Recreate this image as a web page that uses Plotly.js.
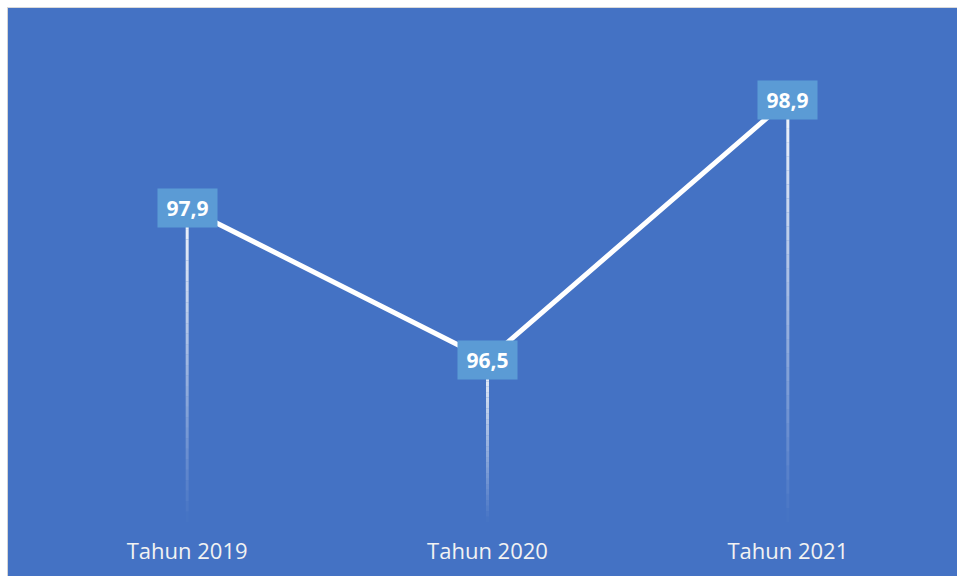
<!DOCTYPE html>
<html>
<head>
<meta charset="utf-8">
<script src="https://cdn.plot.ly/plotly-3.0.1.min.js"></script>
<style>
  html, body { margin: 0; padding: 0; background: #ffffff; }
  #wrap { position: relative; width: 957px; height: 576px; overflow: hidden; background: #ffffff; }
  #chart { position: absolute; left: 7px; top: 7px; width: 950px; height: 569px;
           border-left: 1px solid #d4d4d4; border-top: 1px solid #d9d9d9; box-sizing: border-box; }
</style>
</head>
<body>
<div id="wrap"><div id="chart"></div></div>
<script>
// Data
const categories = ["Tahun 2019", "Tahun 2020", "Tahun 2021"];
const values = [97.9, 96.5, 98.9];
const valueLabels = ["97,9", "96,5", "98,9"];

const yMin = 95, yMax = 99.5;
const BG = "#4472C4";
const LABEL_BG = "#5B9BD5";

const traces = [];

// Drop lines with a white-to-transparent gradient, built as stacked segments
const N = 30;
for (let k = 0; k < N; k++) {
  const xs = [], ys = [];
  categories.forEach((c, i) => {
    const top = values[i] - (values[i] - yMin) * (k / N);
    const bot = values[i] - (values[i] - yMin) * ((k + 1) / N);
    xs.push(c, c, null);
    ys.push(top, bot, null);
  });
  const t = (k + 0.5) / N;
  traces.push({
    type: "scatter", mode: "lines", x: xs, y: ys,
    line: { color: "#ffffff", width: 3 },
    opacity: Math.max(0, 1 - t) * 0.95,
    hoverinfo: "skip", showlegend: false, connectgaps: false
  });
}

// Main line
traces.push({
  type: "scatter", mode: "lines", x: categories, y: values,
  line: { color: "#ffffff", width: 5 },
  showlegend: false
});

const annotations = categories.map((c, i) => ({
  x: c, y: values[i], xref: "x", yref: "y",
  text: "<b>" + valueLabels[i] + "</b>",
  showarrow: false,
  font: { family: "'Open Sans', sans-serif", size: 21, color: "#ffffff" },
  bgcolor: LABEL_BG,
  borderpad: 0,
  width: 59, height: 38,
  align: "center", valign: "middle",
  xanchor: "center", yanchor: "middle"
}));

const layout = {
  width: 949, height: 568,
  margin: { l: 29, r: 19, t: 27, b: 54 },
  paper_bgcolor: BG,
  plot_bgcolor: BG,
  showlegend: false,
  xaxis: {
    type: "category",
    range: [-0.5, 2.5],
    showgrid: false, zeroline: false, showline: false,
    ticks: "", ticklabelstandoff: 14,
    tickfont: { family: "'Open Sans', sans-serif", size: 22, color: "#f2f2f2" },
    fixedrange: true
  },
  yaxis: {
    range: [yMin, yMax],
    showgrid: false, zeroline: false, showline: false,
    showticklabels: false, ticks: "",
    fixedrange: true
  },
  annotations: annotations
};

Plotly.newPlot("chart", traces, layout, { displayModeBar: false, staticPlot: true });
</script>
</body>
</html>
